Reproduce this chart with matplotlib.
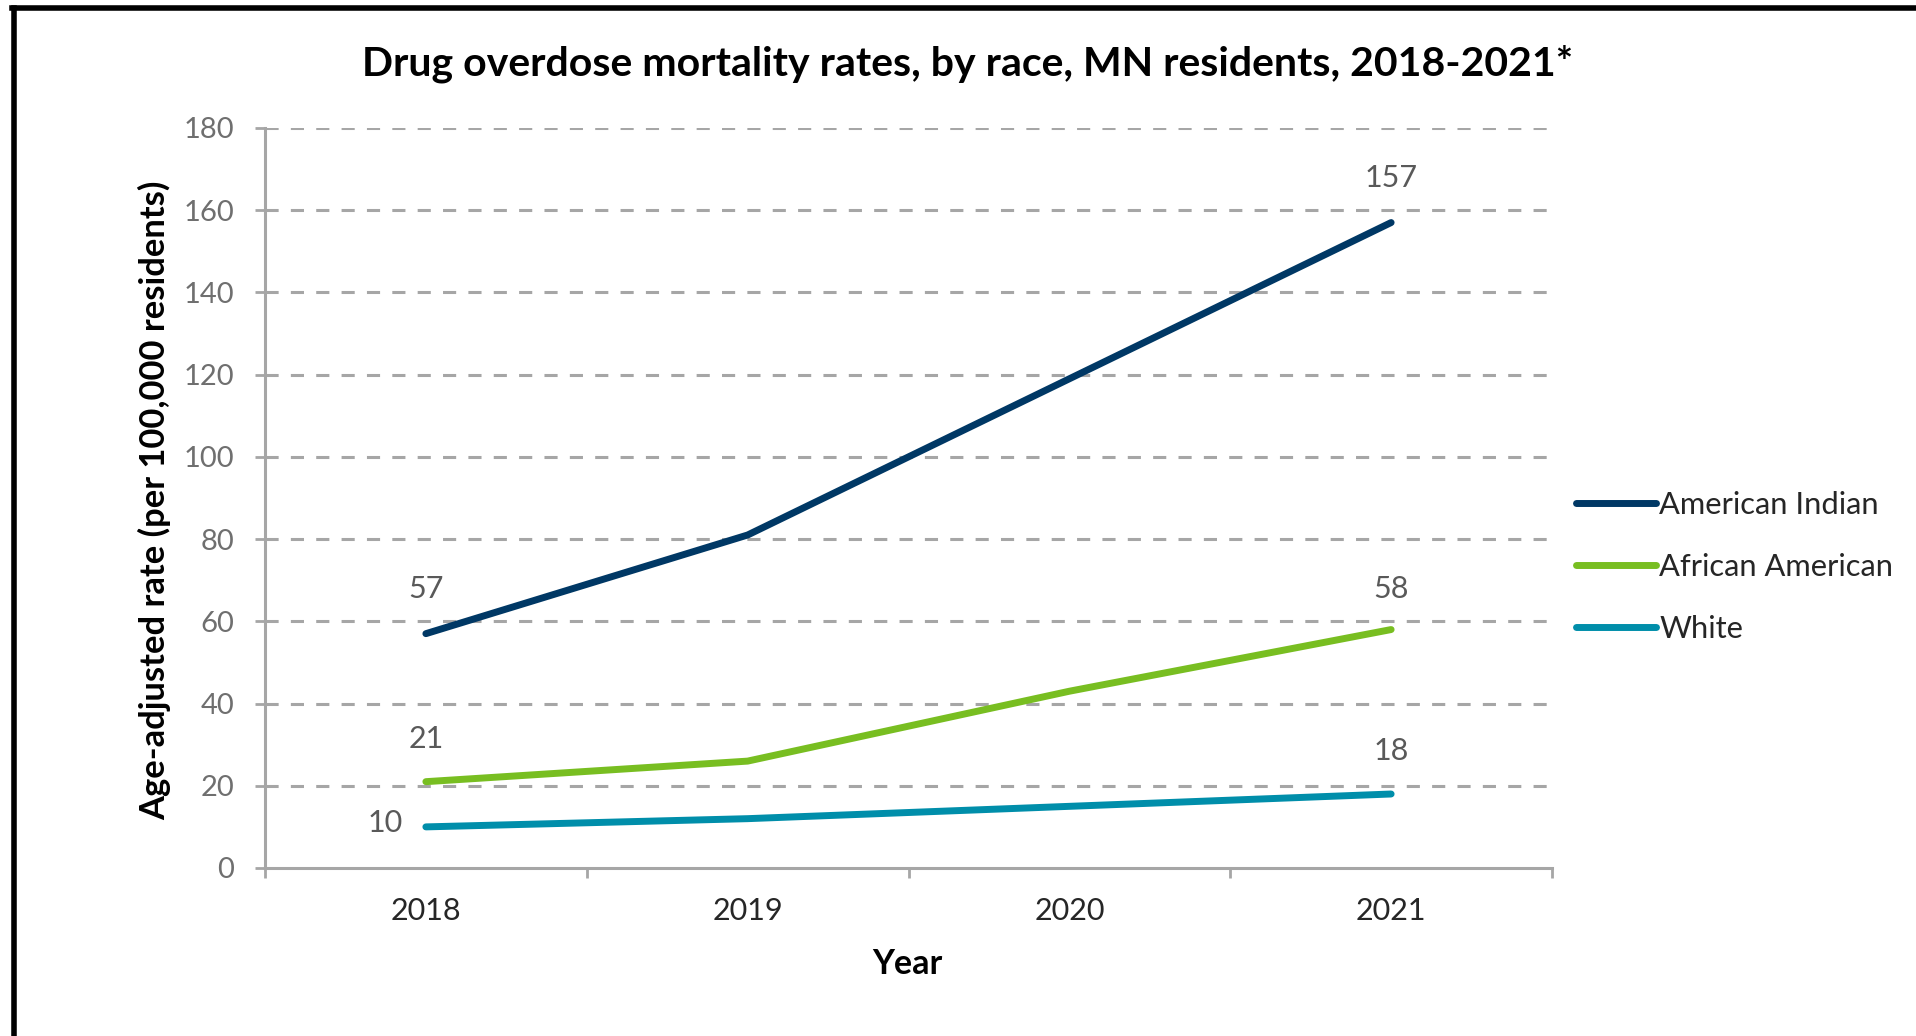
import matplotlib

matplotlib.use("Agg")
import matplotlib.pyplot as plt
from matplotlib.lines import Line2D

years = ["2018", "2019", "2020", "2021"]
american_indian = [57, 81, 119, 157]
african_american = [21, 26, 43, 58]
white = [10, 12, 15, 18]

series = [
    ("American Indian", american_indian, "#003865"),
    ("African American", african_american, "#78BE21"),
    ("White", white, "#008EAA"),
]
y_ticks = [0, 20, 40, 60, 80, 100, 120, 140, 160, 180]

W, H = 1916, 1036
FONT = "Lato"
GRID = "#a6a6a6"

plt.rcParams["font.family"] = FONT

fig = plt.figure(figsize=(W / 100, H / 100), dpi=100)
ax = fig.add_axes([265 / W, 1 - 868 / H, (1552 - 265) / W, (868 - 128) / H])

x = list(range(len(years)))
for name, vals, color in series:
    ax.plot(x, vals, color=color, lw=5, solid_capstyle="round",
            solid_joinstyle="round", label=name, zorder=3)

# data labels on first and last points
label_color = "#595959"
lbl = dict(textcoords="offset points", ha="center", va="center", fontsize=22, color=label_color)
ax.annotate(str(american_indian[0]), (0, american_indian[0]), xytext=(0, 32), **lbl)
ax.annotate(str(american_indian[-1]), (3, american_indian[-1]), xytext=(0, 32), **lbl)
ax.annotate(str(african_american[0]), (0, african_american[0]), xytext=(0, 31), **lbl)
ax.annotate(str(african_american[-1]), (3, african_american[-1]), xytext=(0, 29), **lbl)
ax.annotate(str(white[0]), (0, white[0]), xytext=(-29, 3), **lbl)
ax.annotate(str(white[-1]), (3, white[-1]), xytext=(0, 31), **lbl)

ax.set_xlim(-0.5, len(years) - 0.5)
ax.set_ylim(0, 180)
ax.set_yticks(y_ticks)
ax.set_yticklabels([str(v) for v in y_ticks])
ax.set_xticks(x)
ax.set_xticklabels(years)
ax.set_xticks([i - 0.5 for i in range(len(years) + 1)], minor=True)

ax.tick_params(axis="y", direction="out", length=7, width=2, color=GRID,
               labelsize=21, labelcolor="#6f6f6f", pad=15)
ax.tick_params(axis="x", which="major", length=0, labelsize=22,
               labelcolor="#262626", pad=21)
ax.tick_params(axis="x", which="minor", direction="out", length=7, width=2, color=GRID)

for yv in y_ticks[1:]:
    ax.axhline(yv, color=GRID, lw=2.2, linestyle=(0, (4.3, 4)), zorder=1)

for side in ["top", "right"]:
    ax.spines[side].set_visible(False)
for side in ["left", "bottom"]:
    ax.spines[side].set_color(GRID)
    ax.spines[side].set_linewidth(2.2)

fig.text(968 / W, 1 - 64 / H, "Drug overdose mortality rates, by race, MN residents, 2018-2021*",
         ha="center", va="center", fontsize=29.5, fontweight="bold", color="black")
fig.text(155 / W, 1 - 500 / H, "Age-adjusted rate (per 100,000 residents)",
         ha="center", va="center", rotation=90, fontsize=24.8, fontweight="bold", color="black")
fig.text(907 / W, 1 - 964 / H, "Year", ha="center", va="center",
         fontsize=24.5, fontweight="bold", color="black")

fig.legend(loc="center left", bbox_to_anchor=(1576 / W, 1 - 567 / H), frameon=False,
           fontsize=22.2, handlelength=2.6, handletextpad=0.1, labelspacing=1.1,
           borderpad=0, borderaxespad=0, labelcolor="#262626")

# outer black frame (left and top edges visible)
fig.add_artist(Line2D([14 / W, 14 / W], [0, 1 - 8 / H], color="black", lw=4,
                      transform=fig.transFigure))
fig.add_artist(Line2D([12 / W, 1], [1 - 8 / H, 1 - 8 / H], color="black", lw=4,
                      transform=fig.transFigure))

fig.savefig("out.png", dpi=100)
